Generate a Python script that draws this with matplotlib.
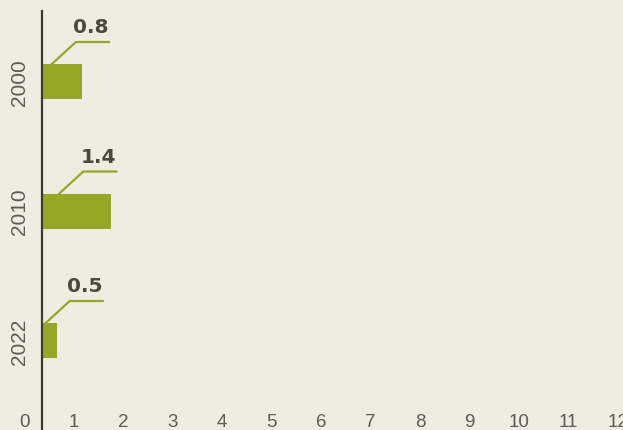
import matplotlib
matplotlib.use("Agg")
import matplotlib.pyplot as plt
from matplotlib.transforms import ScaledTranslation

years = ["2000", "2010", "2022"]
bar_len = [0.8, 1.4, 0.3]          # drawn length
value_labels = ["0.8", "1.4", "0.5"]
xticks = list(range(13))

BG, BAR, INK, GREY = "#efede1", "#96a626", "#4a4a3c", "#5c5c54"
W, H, DPI = 623, 431, 100
THIN = ["Liberation Sans", "DejaVu Sans"]

fig = plt.figure(figsize=(W / DPI, H / DPI), dpi=DPI, facecolor=BG)
# x: 0 at 42px, 49.5px per unit ; top of plot 12px from the top edge
ax = fig.add_axes([42 / W, 0, 12 * 49.5 / W, (H - 12) / H], facecolor=BG)
ax.set_xlim(0, 12)
unit = 129.5
ax.set_ylim((H - 12 - 70.5) / unit, -70.5 / unit)

hgt = 35 / unit
ax.barh(list(range(len(years))), bar_len, height=hgt, color=BAR)

for i, (v, lab) in enumerate(zip(bar_len, value_labels)):
    px, py = ax.transData.transform((v * 0.25, i - hgt / 2))
    xs = [px, px + 24, px + 57]
    ys = [py, py + 22, py + 22]
    fig.add_artist(plt.Line2D(xs, ys, transform=None, color=BAR, lw=1.6))
    fig.text(xs[-1] / W, (ys[-1] + 6) / H, lab, ha="right", va="bottom",
             fontsize=14.5, fontweight="bold", color=INK)
    fig.text(20 / W, ax.transData.transform((0, i))[1] / H, years[i],
             rotation=90, ha="center", va="center", fontsize=15,
             color=GREY, family=THIN)

ax.set_yticks([])
ax.set_xticks(xticks)
ax.set_xticklabels([str(t) for t in xticks], family=THIN)
ax.tick_params(axis="x", length=0, pad=-12.5, labelsize=13.5,
               labelcolor=GREY)
shift = ScaledTranslation(-0.18, 0, fig.dpi_scale_trans)
for t in ax.get_xticklabels():
    t.set_transform(t.get_transform() + shift)
for s in ["top", "right", "bottom"]:
    ax.spines[s].set_visible(False)
ax.spines["left"].set_color("#3d3b2f")
ax.spines["left"].set_linewidth(1.6)

fig.savefig("out.png", dpi=DPI, facecolor=BG)
